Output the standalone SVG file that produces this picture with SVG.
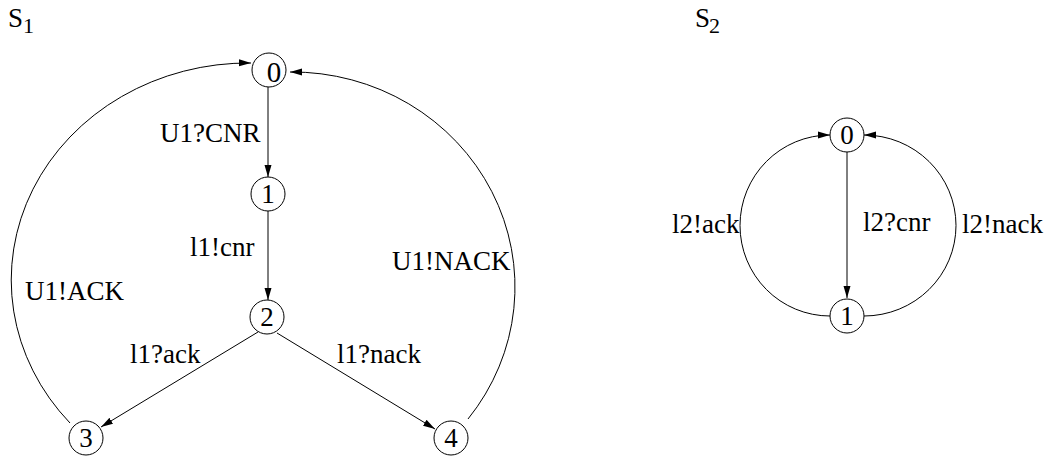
<svg xmlns="http://www.w3.org/2000/svg" width="1045" height="456" viewBox="0 0 1045 456">
<style>
.lbl{font-size:27px}
.num{font-size:27px;text-anchor:middle}
.sub{font-size:22px}
.node{fill:#fff;stroke:#000;stroke-width:1}
.edge{fill:none;stroke:#000;stroke-width:1;marker-end:url(#arr)}
</style>
<defs>
<marker id="arr" markerUnits="userSpaceOnUse" markerWidth="13" markerHeight="8" refX="12" refY="4" orient="auto">
<path d="M0,0.5 L12,4 L0,7.5 z" fill="#000"/>
</marker>
</defs>
<rect width="1045" height="456" fill="#fff"/>
<g font-family="Liberation Serif, Times New Roman, DejaVu Serif, serif" fill="#000">
<g id="titles">
<text class="lbl" x="8" y="27">S</text><text class="sub" x="23" y="33">1</text>
<text class="lbl" x="695" y="27">S</text><text class="sub" x="709" y="33">2</text>
</g>
<g id="connectors">
<path class="edge" d="M268 87 L268 177"/>
<path class="edge" d="M268 211 L268 300"/>
<path class="edge" d="M258 332 L101 427"/>
<path class="edge" d="M277 333 L435 429"/>
<path class="edge" d="M70 423 A237 217 0 0 1 251 63"/>
<path class="edge" d="M468 419 A223 215 0 0 0 290 72"/>
<path class="edge" d="M847 152 L847 298"/>
<path class="edge" d="M830 316 A90 90.5 0 0 1 830 135"/>
<path class="edge" d="M864 316 A92 90.5 0 0 0 864 135"/>
</g>
<g id="labels">
<text class="lbl" x="160" y="142">U1?CNR</text>
<text class="lbl" x="190" y="256">l1!cnr</text>
<text class="lbl" x="25" y="300">U1!ACK</text>
<text class="lbl" x="130" y="363">l1?ack</text>
<text class="lbl" x="337" y="363">l1?nack</text>
<text class="lbl" x="392" y="270">U1!NACK</text>
<text class="lbl" x="672" y="233">l2!ack</text>
<text class="lbl" x="863" y="231">l2?cnr</text>
<text class="lbl" x="962" y="233">l2!nack</text>
</g>
<g id="s1-n0"><circle class="node" cx="269" cy="70" r="17"/><text class="num" x="274" y="82" style="font-size:29px">0</text></g>
<g id="s1-n1"><circle class="node" cx="268" cy="194" r="17"/><text class="num" x="268" y="203">1</text></g>
<g id="s1-n2"><circle class="node" cx="267" cy="317" r="17"/><text class="num" x="267" y="326">2</text></g>
<g id="s1-n3"><circle class="node" cx="86" cy="438" r="17"/><text class="num" x="86" y="447">3</text></g>
<g id="s1-n4"><circle class="node" cx="451" cy="438" r="17"/><text class="num" x="451" y="447">4</text></g>
<g id="s2-n0"><circle class="node" cx="847" cy="135" r="17"/><text class="num" x="847" y="144">0</text></g>
<g id="s2-n1"><circle class="node" cx="847" cy="316" r="17"/><text class="num" x="847" y="325">1</text></g>
</g>
</svg>
